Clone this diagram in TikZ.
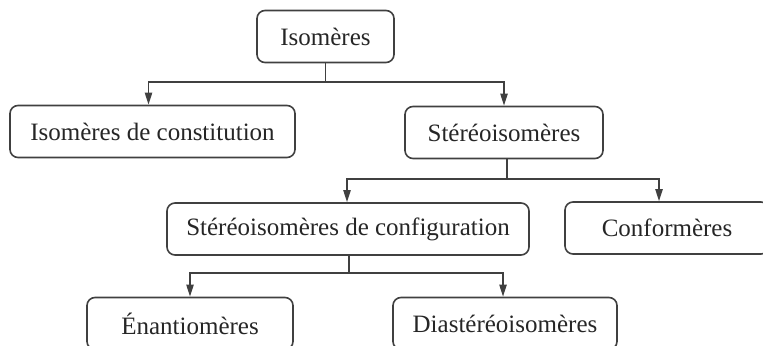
\documentclass[tikz,border=0pt]{standalone}
\usepackage{fontspec}
\setmainfont{Liberation Serif}
\usetikzlibrary{arrows.meta}

\begin{document}
\begin{tikzpicture}[x=0.5pt, y=-0.5pt, >={Triangle[length=6pt,width=3.6pt]},
        every node/.style={font=\fontsize{12.5}{14}\selectfont, text=black!85},
        box/.style={draw=black!75, rounded corners=4pt, line width=0.8pt,
            minimum height=26pt, inner sep=0pt},
        link/.style={->, draw=black!75, line width=0.8pt}]
    \useasboundingbox (0,0) rectangle (763,346);
    \clip (0,0) rectangle (763,346);

    \node[box, minimum width=68.5pt] (iso) at (325.5,36.5) {Isomères};

    \node[box, minimum width=142.5pt] (const) at (152.5,131.5) {Isomères de constitution};
    \node[box, minimum width=99pt] (stereo) at (504,132.5) {Stéréoisomères};

    \node[box, minimum width=181pt] (config) at (348,229) {Stéréoisomères de configuration};
    \node[box, minimum width=102pt] (conf) at (667,228) {Conformères};

    \node[box, minimum width=103pt] (enan) at (190,323.5) {Énantiomères};
    \node[box, minimum width=112pt] (dia) at (505,323.5) {Diastéréoisomères};

    \coordinate (t1) at (325.5,82);
    \coordinate (t2) at (507,179);
    \coordinate (t3) at (349,273);

    \draw[link, -] (iso) -- (t1);
    \draw[link] (t1) -| ([xshift=-2pt]const.north);
    \draw[link] (t1) -| (stereo.north);
    \draw[link, -] (stereo.south -| t2) -- (t2);
    \draw[link] (t2) -| ([xshift=-0.5pt]config.north);
    \draw[link] (t2) -| ([xshift=-4pt]conf.north);
    \draw[link, -] (config.south -| t3) -- (t3);
    \draw[link] (t3) -| (enan.north);
    \draw[link] (t3) -| ([xshift=-1pt]dia.north);
\end{tikzpicture}
\end{document}
